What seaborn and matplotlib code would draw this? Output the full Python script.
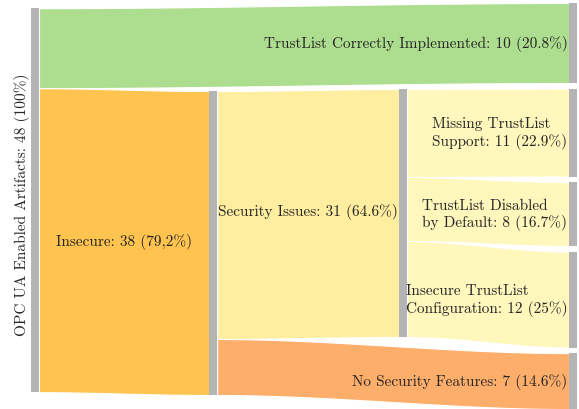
import numpy as np
import matplotlib.pyplot as plt
import seaborn as sns

# Knoten und Flüsse des Sankey-Diagramms
node_labels = [
    "OPC UA Enabled Artifacts: 48 (100%)",
    "Insecure: 38 (79,2%)",
    "Security Issues: 31 (64.6%)",
    "TrustList Correctly Implemented: 10 (20.8%)",
    "Missing TrustList\nSupport: 11 (22.9%)",
    "TrustList Disabled\nby Default: 8 (16.7%)",
    "Insecure TrustList\nConfiguration: 12 (25%)",
    "No Security Features: 7 (14.6%)",
]
node_col = [0, 1, 2, 3, 3, 3, 3, 3]
link_src = [0, 0, 1, 1, 2, 2, 2]
link_tgt = [3, 1, 2, 7, 4, 5, 6]
link_val = [10, 38, 31, 7, 11, 8, 12]

node_colors = ["#b4b4b4", "#fec44f", "#ffeda0", "#addd8e",
               "#fff7bc", "#fff7bc", "#fff7bc", "#fdae6b"]

# Layout
col_x = [0.0, 0.331, 0.684, 1.0]
col_top = [1.15, 11.5, 11.25, 0.5]
node_w = 0.0149
gap = 0.69

sns.set_style("white")
plt.rcParams['font.family'] = ['cmr10', 'DejaVu Serif']
plt.rcParams['axes.formatter.use_mathtext'] = True

fig = plt.figure(figsize=(5.79, 4.10), dpi=100)
ax = fig.add_axes([0, 0, 1, 1])
ax.set_xlim(-31 / 538, 548 / 538)
ax.set_ylim(410 / 8, 0)
ax.axis("off")

n = len(node_labels)
vin = np.zeros(n)
vout = np.zeros(n)
for s, t, v in zip(link_src, link_tgt, link_val):
    vout[s] += v
    vin[t] += v
node_val = np.maximum(vin, vout)

node_top = np.zeros(n)
for c in range(4):
    y = col_top[c]
    for i in range(n):
        if node_col[i] == c:
            node_top[i] = y
            y += node_val[i] + gap

# Flüsse
out_off = node_top.copy()
in_off = node_top.copy()
xs_t = np.linspace(0, 1, 200)
smooth = 3 * xs_t ** 2 - 2 * xs_t ** 3
for s, t, v in zip(link_src, link_tgt, link_val):
    x0 = col_x[node_col[s]] + node_w
    x1 = col_x[node_col[t]]
    y0, y1 = out_off[s], in_off[t]
    out_off[s] += v
    in_off[t] += v
    xs = x0 + (x1 - x0) * xs_t
    top = y0 + (y1 - y0) * smooth
    ax.fill_between(xs, top, top + v, color=node_colors[t],
                    edgecolor="white", linewidth=0.8, zorder=1)

# Knoten
for i in range(n):
    ax.bar(col_x[node_col[i]], node_val[i], width=node_w, bottom=node_top[i],
           align="edge", color="#b4b4b4", linewidth=0, zorder=2)

# Beschriftungen
fs = 11
pad = 0.003
for i in range(n):
    yc = node_top[i] + node_val[i] / 2
    c = node_col[i]
    if c == 0:
        ax.text(-0.016, yc + 0.4, node_labels[i], rotation=90, ha="center",
                va="center", fontsize=fs, zorder=3)
    elif c in (1, 2):
        xm = (col_x[c - 1] + node_w + col_x[c]) / 2
        ax.text(xm, yc - 0.2, node_labels[i], ha="center", va="center",
                fontsize=fs, zorder=3)
    else:
        ax.text(col_x[c] - pad, yc, node_labels[i], ha="right", va="center",
                multialignment="left", fontsize=fs, zorder=3)

fig.savefig("out.png", dpi=100)
